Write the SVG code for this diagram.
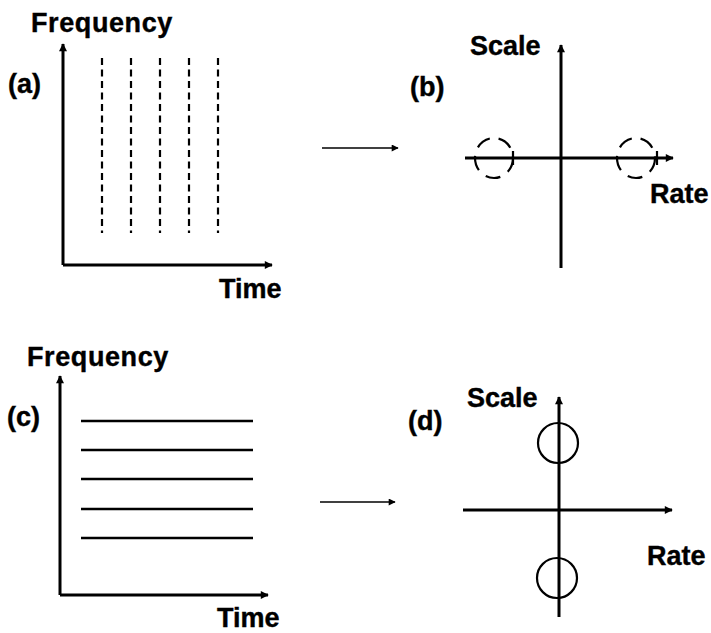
<svg xmlns="http://www.w3.org/2000/svg" width="711" height="633" viewBox="0 0 711 633">
<defs>
<marker id="ah" viewBox="0 0 10 10" refX="9" refY="5" markerWidth="11" markerHeight="8" markerUnits="userSpaceOnUse" orient="auto">
<path d="M0,0 L10,5 L0,10 z" fill="#000"/>
</marker>
<marker id="ahs" viewBox="0 0 10 10" refX="9" refY="5" markerWidth="9" markerHeight="7" markerUnits="userSpaceOnUse" orient="auto">
<path d="M0,0 L10,5 L0,10 z" fill="#000"/>
</marker>
</defs>
<style>
text{font-family:"Liberation Sans",Arial,sans-serif;font-weight:bold;font-size:27px;fill:#000;stroke:#000;stroke-width:0.4}
.fq{letter-spacing:0.6px}
.ax{stroke:#000;stroke-width:3;fill:none;marker-end:url(#ah)}
.dash{stroke:#000;stroke-width:2.2;stroke-dasharray:7 4.5;fill:none}
.hl{stroke:#000;stroke-width:2.5;fill:none}
.tr{stroke:#000;stroke-width:1.5;fill:none;marker-end:url(#ahs)}
.dc{stroke:#000;stroke-width:2.2;stroke-dasharray:15 9;fill:none}
.sc{stroke:#000;stroke-width:2.2;fill:none}
</style>
<rect width="711" height="633" fill="#fff"/>
<g id="panel-a">
<text class="fq" x="31" y="32">Frequency</text>
<text x="8" y="93">(a)</text>
<text x="219" y="298">Time</text>
<path class="ax" d="M63,265 L63,44"/>
<path class="ax" d="M63,265 L272,265"/>
<path class="dash" d="M102,58 V233 M131,58 V233 M160,58 V233 M189,58 V233 M218,58 V233"/>
</g>
<g id="panel-b">
<text x="470" y="55">Scale</text>
<text x="410" y="96">(b)</text>
<text x="650" y="203">Rate</text>
<path class="ax" d="M561,268 L561,45"/>
<path class="ax" d="M465,158 L673,158"/>
<path class="sc" d="M513,151 V165 M657,151 V165"/>
<ellipse class="dc" cx="494" cy="158" rx="19" ry="20"/>
<ellipse class="dc" cx="636" cy="158" rx="19" ry="20"/>
</g>
<g id="panel-c">
<text class="fq" x="27" y="366">Frequency</text>
<text x="7" y="426">(c)</text>
<text x="217" y="627">Time</text>
<path class="ax" d="M60,595 L60,376"/>
<path class="ax" d="M60,595 L268,595"/>
<path class="hl" d="M81,421 H253 M81,450 H253 M81,479 H253 M81,509 H253 M81,538 H253"/>
</g>
<g id="panel-d">
<text x="467" y="407">Scale</text>
<text x="408" y="430">(d)</text>
<text x="647" y="565">Rate</text>
<path class="ax" d="M559,617 L559,397"/>
<path class="ax" d="M463,510 L672,510"/>
<circle class="sc" cx="558" cy="443" r="20"/>
<circle class="sc" cx="557" cy="578" r="20"/>
</g>
<g id="connectors">
<path class="tr" d="M322,148 L398,148"/>
<path class="tr" d="M320,502 L395,502"/>
</g>
</svg>
